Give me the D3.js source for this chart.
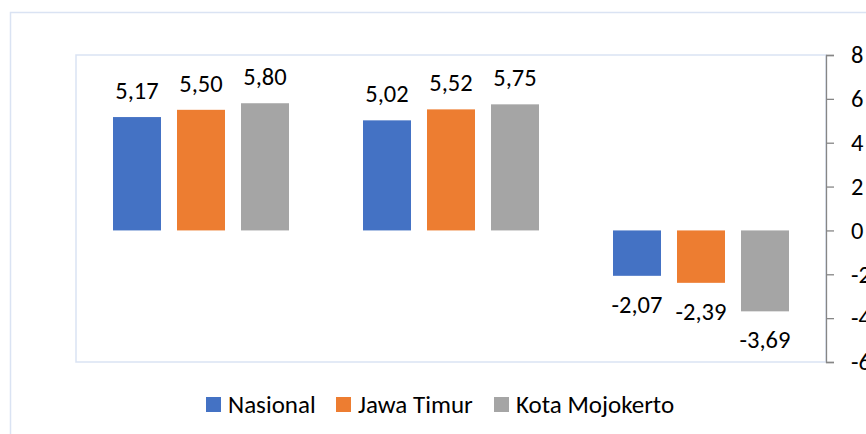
<!DOCTYPE html>
<html>
<head>
<meta charset="utf-8">
<script src="https://cdn.jsdelivr.net/npm/d3@7"></script>
<style>
  body { margin: 0; background: #fff; }
  svg { display: block; font-family: Carlito, Calibri, Lato, sans-serif; }
</style>
</head>
<body>
<svg id="chart" width="866" height="434"></svg>
<script>
// categories have no visible labels in the source chart
var groups = ['g1', 'g2', 'g3'];
var seriesNames = ['Nasional', 'Jawa Timur', 'Kota Mojokerto'];
var nasional = [5.17, 5.02, -2.07];
var jawaTimur = [5.50, 5.52, -2.39];
var kotaMojokerto = [5.80, 5.75, -3.69];
var yTicks = [8, 6, 4, 2, 0, -2, -4, -6];
var colors = ['#4472c4', '#ed7d31', '#a5a5a5'];

var seriesValues = [nasional, jawaTimur, kotaMojokerto];

var svg = d3.select('#chart');
var plot = { left: 76, right: 826, top: 55, bottom: 362 };

// outer chart border
svg.append('rect')
  .attr('x', 10.5).attr('y', 12.5)
  .attr('width', 900).attr('height', 500)
  .attr('fill', 'none')
  .attr('stroke', '#dae3f3')
  .attr('stroke-width', 1.5);

// plot area border
svg.append('rect')
  .attr('x', plot.left).attr('y', plot.top)
  .attr('width', plot.right - plot.left).attr('height', plot.bottom - plot.top)
  .attr('fill', 'none')
  .attr('stroke', '#dae3f3')
  .attr('stroke-width', 1.5);

var x0 = d3.scaleBand()
  .domain(groups)
  .range([plot.left, plot.right])
  .paddingInner(0)
  .paddingOuter(0);

var x1 = d3.scaleBand()
  .domain(seriesNames)
  .range([37, x0.bandwidth() - 37])
  .paddingInner(0.25);

var y = d3.scaleLinear()
  .domain([-6, 8])
  .range([plot.bottom, plot.top]);

var fmt = function(v) {
  return v.toFixed(2).replace('.', ',');
};

seriesNames.forEach(function(name, si) {
  var g = svg.append('g');
  var vals = seriesValues[si];
  g.selectAll('rect')
    .data(vals)
    .enter().append('rect')
    .attr('x', function(d, i) { return x0(groups[i]) + x1(name); })
    .attr('width', x1.bandwidth())
    .attr('y', function(d) { return y(Math.max(0, d)); })
    .attr('height', function(d) { return Math.abs(y(d) - y(0)); })
    .attr('fill', colors[si]);

  g.selectAll('text')
    .data(vals)
    .enter().append('text')
    .attr('x', function(d, i) { return x0(groups[i]) + x1(name) + x1.bandwidth() / 2; })
    .attr('y', function(d) { return d >= 0 ? y(d) - 18 : y(d) + 37; })
    .attr('text-anchor', 'middle')
    .attr('font-size', 24.5)
    .attr('fill', '#000')
    .text(fmt);
});

// right axis
var axis = d3.axisRight(y)
  .tickValues(yTicks)
  .tickSize(8)
  .tickPadding(17)
  .tickFormat(d3.format('d'));

var axisG = svg.append('g')
  .attr('transform', 'translate(' + plot.right + ',0)')
  .call(axis);
axisG.select('.domain').attr('stroke', '#868686').attr('stroke-width', 1.3);
axisG.selectAll('.tick line').attr('stroke', '#868686').attr('stroke-width', 1.3);
axisG.selectAll('.tick text')
  .attr('font-size', 24.5)
  .attr('font-family', 'Carlito, Calibri, Lato, sans-serif')
  .attr('fill', '#000')
  .text(function(d) { return d < 0 ? '-' + Math.abs(d) : d; });

// legend
var legendX = [206, 336, 494];
var legend = svg.append('g');
seriesNames.forEach(function(name, i) {
  legend.append('rect')
    .attr('x', legendX[i]).attr('y', 397)
    .attr('width', 15).attr('height', 15)
    .attr('fill', colors[i]);
  legend.append('text')
    .attr('x', legendX[i] + 22).attr('y', 413)
    .attr('font-size', 25)
    .attr('fill', '#000')
    .text(name);
});
</script>
</body>
</html>
